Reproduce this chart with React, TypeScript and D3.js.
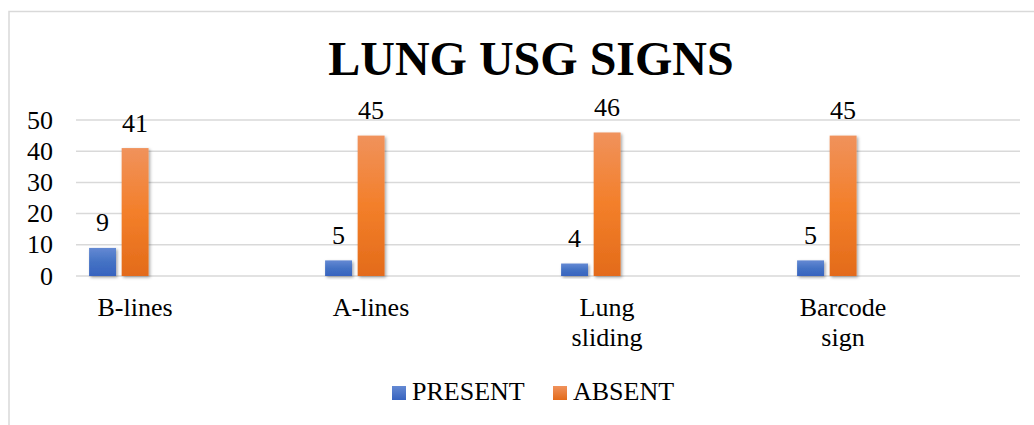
import React from "react";
import * as d3 from "d3";

const categories = ["B-lines", "A-lines", "Lung sliding", "Barcode sign"];
const presentValues = [9, 5, 4, 5];
const absentValues = [41, 45, 46, 45];
const seriesNames = ["PRESENT", "ABSENT"];
const yTicks = [0, 10, 20, 30, 40, 50];
const title = "LUNG USG SIGNS";

const W = 1034;
const H = 425;
const FONT = "'Liberation Serif', 'Times New Roman', Times, serif";

export default function App() {
  const x = d3.scaleBand<string>().domain(categories).range([76, 1020]).padding(0);
  const y = d3.scaleLinear().domain([0, 50]).range([276, 120]);
  const bw = x.bandwidth();
  const barW = bw * 0.114;
  const offsets = [bw * 0.0555, bw * 0.1935];
  const series = [presentValues, absentValues];
  const fills = ["url(#gBlue)", "url(#gOrange)"];

  return (
    <svg width={W} height={H} style={{ position: "absolute", left: 0, top: 0, background: "#fff" }}>
      <defs>
        <linearGradient id="gBlue" x1="0" y1="0" x2="0" y2="1">
          <stop offset="0" stopColor="#6489d3" />
          <stop offset="0.5" stopColor="#4472c4" />
          <stop offset="1" stopColor="#3763bf" />
        </linearGradient>
        <linearGradient id="gOrange" x1="0" y1="0" x2="0" y2="1">
          <stop offset="0" stopColor="#f0925c" />
          <stop offset="0.5" stopColor="#f37f2a" />
          <stop offset="1" stopColor="#e36b1a" />
        </linearGradient>
        <linearGradient id="lBlue" x1="0" y1="0" x2="0" y2="1">
          <stop offset="0" stopColor="#6489d3" />
          <stop offset="1" stopColor="#3763bf" />
        </linearGradient>
        <linearGradient id="lOrange" x1="0" y1="0" x2="0" y2="1">
          <stop offset="0" stopColor="#f0925c" />
          <stop offset="1" stopColor="#e36b1a" />
        </linearGradient>
        <filter id="shadow" x="-30%" y="-10%" width="160%" height="130%">
          <feDropShadow dx="1.5" dy="1.5" stdDeviation="1.5" floodColor="#000" floodOpacity="0.35" />
        </filter>
      </defs>

      {/* chart border */}
      <rect x={9} y={11.5} width={1100} height={500} fill="none" stroke="#d9d9d9" strokeWidth={1.5} />

      {/* title */}
      <text x={531} y={75} textAnchor="middle" fontFamily={FONT} fontWeight="bold" fontSize={48} fill="#000">
        {title}
      </text>

      {/* gridlines */}
      {yTicks.map((t) => (
        <line key={t} x1={76} x2={1020} y1={y(t)} y2={y(t)} stroke="#d9d9d9" strokeWidth={1.5} />
      ))}

      {/* y tick labels */}
      {yTicks.map((t) => (
        <text key={t} x={53} y={y(t) + 8.5} textAnchor="end" fontFamily={FONT} fontSize={26} fill="#000">
          {t}
        </text>
      ))}

      {/* bars */}
      {series.map((vals, si) =>
        categories.map((c, i) => (
          <rect
            key={`${si}-${c}`}
            x={(x(c) as number) + offsets[si]}
            y={y(vals[i])}
            width={barW}
            height={y(0) - y(vals[i])}
            fill={fills[si]}
            filter="url(#shadow)"
          />
        ))
      )}

      {/* data labels */}
      {series.map((vals, si) =>
        categories.map((c, i) => (
          <text
            key={`l-${si}-${c}`}
            x={(x(c) as number) + offsets[si] + barW / 2}
            y={y(vals[i]) - 16.5}
            textAnchor="middle"
            fontFamily={FONT}
            fontSize={26}
            fill="#000"
          >
            {vals[i]}
          </text>
        ))
      )}

      {/* category labels */}
      {categories.map((c) => {
        const lines = c.includes(" ") ? c.split(" ") : [c];
        return (
          <text key={c} textAnchor="middle" fontFamily={FONT} fontSize={26} fill="#000">
            {lines.map((ln, j) => (
              <tspan key={j} x={(x(c) as number) + bw * 0.25} y={316 + j * 30}>
                {ln}
              </tspan>
            ))}
          </text>
        );
      })}

      {/* legend */}
      {seriesNames.map((n, i) => {
        const lx = [392, 553][i];
        return (
          <g key={n}>
            <rect x={lx} y={386} width={14} height={14} fill={i === 0 ? "url(#lBlue)" : "url(#lOrange)"} />
            <text x={lx + 20} y={400} fontFamily={FONT} fontSize={26} fill="#000">
              {n}
            </text>
          </g>
        );
      })}
    </svg>
  );
}
